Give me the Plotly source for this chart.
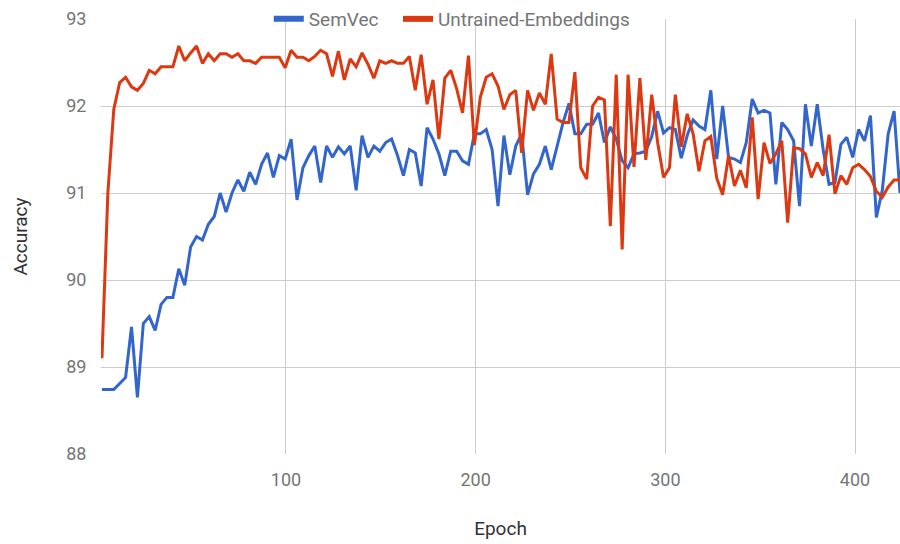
import numpy as np
import plotly.graph_objects as go

semvec = [
    88.74, 88.74, 88.74, 88.81, 88.88, 89.46, 88.65, 89.50, 89.58, 89.42,
    89.72, 89.80, 89.80, 90.13, 89.94, 90.38, 90.50, 90.46, 90.64, 90.73,
    91.00, 90.78, 91.00, 91.15, 91.02, 91.24, 91.10, 91.33, 91.46, 91.18,
    91.43, 91.39, 91.62, 90.92, 91.29, 91.43, 91.54, 91.12, 91.54, 91.41,
    91.53, 91.45, 91.54, 91.03, 91.66, 91.41, 91.54, 91.48, 91.58, 91.62,
    91.43, 91.20, 91.50, 91.46, 91.08, 91.75, 91.62, 91.45, 91.20, 91.48,
    91.48, 91.37, 91.33, 91.68, 91.68, 91.73, 91.50, 90.85, 91.66, 91.21,
    91.54, 91.68, 90.98, 91.22, 91.33, 91.54, 91.27, 91.54, 91.81, 92.03,
    91.68, 91.68, 91.79, 91.79, 91.92, 91.58, 91.76, 91.62, 91.37, 91.29,
    91.45, 91.46, 91.48, 91.65, 91.94, 91.69, 91.75, 91.73, 91.40, 91.66,
    91.84, 91.77, 91.73, 92.18, 91.39, 92.00, 91.41, 91.39, 91.35, 91.58,
    92.08, 91.92, 91.95, 91.92, 91.10, 91.81, 91.73, 91.60, 90.85, 92.02,
    91.54, 92.02, 91.50, 91.10, 91.12, 91.56, 91.64, 91.41, 91.73, 91.60,
    91.89, 90.72, 91.03, 91.68, 91.94, 91.00,
]

untrained = [
    89.10, 91.00, 91.96, 92.27, 92.33, 92.22, 92.18, 92.26, 92.41, 92.37,
    92.45, 92.45, 92.45, 92.69, 92.52, 92.61, 92.69, 92.49, 92.60, 92.52,
    92.60, 92.60, 92.56, 92.60, 92.52, 92.52, 92.49, 92.56, 92.56, 92.56,
    92.56, 92.44, 92.64, 92.56, 92.56, 92.52, 92.57, 92.64, 92.60, 92.34,
    92.63, 92.30, 92.54, 92.45, 92.61, 92.48, 92.32, 92.52, 92.49, 92.52,
    92.49, 92.49, 92.57, 92.18, 92.59, 92.02, 92.30, 91.62, 92.32, 92.41,
    92.20, 91.92, 92.58, 91.55, 92.10, 92.33, 92.37, 92.23, 91.96, 92.13,
    92.18, 91.46, 92.18, 91.95, 92.15, 92.02, 92.60, 91.85, 91.81, 91.81,
    92.39, 91.29, 91.16, 92.00, 92.10, 92.07, 90.62, 92.36, 90.35, 92.36,
    91.30, 92.32, 91.38, 92.13, 91.58, 91.18, 91.29, 92.13, 91.53, 91.91,
    91.68, 91.25, 91.60, 91.65, 91.17, 90.98, 91.43, 91.08, 91.26, 91.06,
    91.87, 90.93, 91.58, 91.34, 91.45, 91.60, 90.66, 91.52, 91.51, 91.45,
    91.18, 91.35, 91.20, 91.67, 90.99, 91.20, 91.10, 91.29, 91.33, 91.27,
    91.19, 91.02, 90.95, 91.07, 91.15, 91.15,
]

epochs = list(np.linspace(3, 423.7, len(semvec)))

x_ticks = [100, 200, 300, 400]
y_ticks = [88, 89, 90, 91, 92, 93]

FONT = "Roboto, Arial, sans-serif"
GRID = "#cccccc"
TICK_COLOR = "#757575"
BLUE = "#3366cc"
RED = "#dc3912"

fig = go.Figure()
fig.add_trace(go.Scatter(x=epochs, y=semvec, mode="lines", name="SemVec",
                         showlegend=False, line=dict(color=BLUE, width=3)))
fig.add_trace(go.Scatter(x=epochs, y=untrained, mode="lines", name="Untrained-Embeddings",
                         showlegend=False, line=dict(color=RED, width=3)))
# legend entries (thick swatches like the original)
fig.add_trace(go.Scatter(x=[None], y=[None], mode="lines", name="SemVec",
                         line=dict(color=BLUE, width=6), legend="legend"))
fig.add_trace(go.Scatter(x=[None], y=[None], mode="lines", name="Untrained-Embeddings",
                         line=dict(color=RED, width=6), legend="legend2"))

legend_common = dict(orientation="h", xanchor="left", y=1.0, yanchor="middle",
                     bgcolor="rgba(0,0,0,0)", font=dict(size=19, color=TICK_COLOR),
                     itemwidth=30)

fig.update_layout(
    width=900, height=544,
    margin=dict(l=101, r=0, t=18, b=90),
    paper_bgcolor="white", plot_bgcolor="white",
    font=dict(family=FONT, size=18, color=TICK_COLOR),
    showlegend=True,
    legend=dict(x=0.21, **legend_common),
    legend2=dict(x=0.3717, **legend_common),
    xaxis=dict(range=[2.5, 423.7], tickvals=x_ticks, showgrid=True, gridcolor=GRID,
               gridwidth=1, zeroline=False, showline=False,
               ticks="outside", ticklen=9, tickcolor="rgba(0,0,0,0)",
               tickfont=dict(size=18, color=TICK_COLOR),
               title=dict(text="Epoch", font=dict(size=19, color="#333333"), standoff=33)),
    yaxis=dict(range=[88, 93], tickvals=y_ticks, showgrid=True, gridcolor=GRID,
               gridwidth=1, zeroline=False, showline=False,
               ticks="outside", ticklen=10, tickcolor="rgba(0,0,0,0)",
               tickfont=dict(size=18, color=TICK_COLOR),
               title=dict(text="Accuracy", font=dict(size=19, color="#333333"), standoff=33)),
)

fig.write_html("out.html")
